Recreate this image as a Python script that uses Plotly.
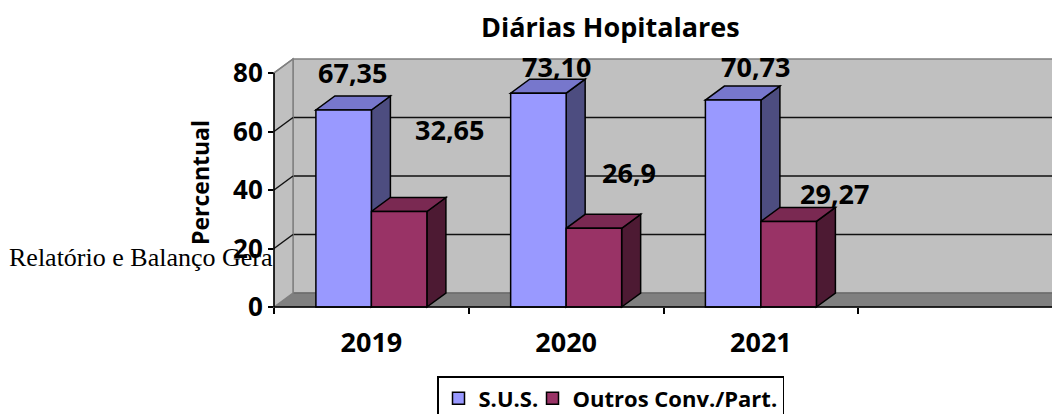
import plotly.graph_objects as go

# ---------------- data ----------------
categories = ["2019", "2020", "2021"]
sus = [67.35, 73.10, 70.73]
outros = [32.65, 26.9, 29.27]
sus_labels = ["67,35", "73,10", "70,73"]
outros_labels = ["32,65", "26,9", "29,27"]
series_names = ["S.U.S.", "Outros Conv./Part."]
y_ticks = [0, 20, 40, 60, 80]
title_text = "Diárias Hopitalares"
y_title = "Percentual"
stray_text = "Relatório e Balanço Gera"

# ---------------- layout / style ----------------
W, H = 1060, 414
OFF = 8                          # page body margin of the html page
N_SLOTS = 4                      # the category axis has an empty 4th slot
PX_PER_X, PX_PER_Y = 194.75, 2.925
X0_PX, Y0_PX = 371.4, 307        # page pixel of category 0 centre / value 0
X_RANGE = [(OFF - X0_PX) / PX_PER_X, (OFF + W - X0_PX) / PX_PER_X]
Y_RANGE = [-(OFF + H - Y0_PX) / PX_PER_Y, (Y0_PX - OFF) / PX_PER_Y]
DX, DY = 19 / PX_PER_X, 14 / PX_PER_Y   # 3-D depth offset in axis units
BAR_W = 0.285
YMAX = y_ticks[-1]
FONT = "Open Sans"

SUS_FRONT, SUS_TOP, SUS_SIDE = "#9999FF", "#7777CC", "#4D4D80"
OUT_FRONT, OUT_TOP, OUT_SIDE = "#993366", "#7A2952", "#4D1A33"
WALL, FLOOR, EDGE = "#C0C0C0", "#808080", "#808080"

# label nudges in pixels (x, y-up)
sus_nudge = [(-1, 24), (9, 13), (13, 20)]
outros_nudge = [(41, 68), (26, 42), (36, 14)]


def px(x):   # page x pixel -> paper
    return (x - OFF) / W


def py(y):   # page y pixel -> paper
    return 1 - (y - OFF) / H


def poly(pts):
    return "M " + " L ".join(f"{x},{y}" for x, y in pts) + " Z"


x_left = -0.5
x_right = N_SLOTS - 0.5
shapes = []

# back wall
shapes.append(dict(type="path", xref="x", yref="y", layer="below",
                   path=poly([(x_left + DX, DY), (x_right + DX, DY),
                              (x_right + DX, YMAX + DY), (x_left + DX, YMAX + DY)]),
                   fillcolor=WALL, line=dict(color=EDGE, width=1.5)))
# floor
shapes.append(dict(type="path", xref="x", yref="y", layer="below",
                   path=poly([(x_left, 0), (x_right, 0), (x_right + DX, DY), (x_left + DX, DY)]),
                   fillcolor=FLOOR, line=dict(color="#606060", width=1)))
# back-wall gridlines
for v in y_ticks[1:-1]:
    shapes.append(dict(type="line", xref="x", yref="y", layer="below",
                       x0=x_left + DX, x1=x_right + DX, y0=v + DY, y1=v + DY,
                       line=dict(color="#111111", width=1.5)))

# 3-D faces of the bars (top and side)
for i in range(len(categories)):
    for vals, off, top_c, side_c in ((sus, -BAR_W, SUS_TOP, SUS_SIDE),
                                     (outros, 0.0, OUT_TOP, OUT_SIDE)):
        v = vals[i]
        x0 = i + off
        x1 = x0 + BAR_W
        shapes.append(dict(type="path", xref="x", yref="y", layer="below",
                           path=poly([(x1, 0), (x1 + DX, DY), (x1 + DX, v + DY), (x1, v)]),
                           fillcolor=side_c, line=dict(color="black", width=1.5)))
        shapes.append(dict(type="path", xref="x", yref="y", layer="below",
                           path=poly([(x0, v), (x1, v), (x1 + DX, v + DY), (x0 + DX, v + DY)]),
                           fillcolor=top_c, line=dict(color="black", width=1.5)))

# side wall (drawn above so it hides the stray text behind it)
shapes.append(dict(type="path", xref="x", yref="y", layer="above",
                   path=poly([(x_left, 0), (x_left + DX, DY), (x_left + DX, YMAX + DY), (x_left, YMAX)]),
                   fillcolor=WALL, line=dict(color=EDGE, width=1.5)))
for v in y_ticks[1:]:
    shapes.append(dict(type="line", xref="x", yref="y", layer="above",
                       x0=x_left, x1=x_left + DX, y0=v, y1=v + DY,
                       line=dict(color="#111111" if v < YMAX else EDGE, width=1.5)))
# axis lines
shapes.append(dict(type="line", xref="x", yref="y", layer="above",
                   x0=x_left, x1=x_left, y0=0, y1=YMAX, line=dict(color="black", width=1.5)))
shapes.append(dict(type="line", xref="x", yref="y", layer="above",
                   x0=x_left, x1=x_right, y0=0, y1=0, line=dict(color="black", width=1.5)))

fig = go.Figure()
xs = list(range(len(categories)))
fig.add_trace(go.Bar(x=xs, y=sus, width=BAR_W, offset=-BAR_W, name=series_names[0],
                     legendwidth=49,
                     marker=dict(color=SUS_FRONT, line=dict(color="black", width=1.5)),
                     hoverinfo="skip"))
fig.add_trace(go.Bar(x=xs, y=outros, width=BAR_W, offset=0, name=series_names[1],
                     marker=dict(color=OUT_FRONT, line=dict(color="black", width=1.5)),
                     hoverinfo="skip"))
# stray document text partly hidden by the chart
fig.add_trace(go.Scatter(x=[(9 - X0_PX) / PX_PER_X], y=[(Y0_PX - 259) / PX_PER_Y],
                         mode="text", text=[stray_text],
                         textposition="middle right", showlegend=False, hoverinfo="skip",
                         textfont=dict(family="Liberation Serif", size=26, color="black")))

annotations = []
for i in range(len(categories)):
    for vals, labs, nud, cx in ((sus, sus_labels, sus_nudge, -BAR_W / 2),
                                (outros, outros_labels, outros_nudge, BAR_W / 2)):
        annotations.append(dict(x=i + cx + DX / 2, y=vals[i] + DY, xref="x", yref="y",
                                text=labs[i], showarrow=False, xanchor="center", yanchor="middle",
                                xshift=nud[i][0], yshift=nud[i][1],
                                font=dict(family=FONT, size=27, weight="bold", color="black")))
annotations.append(dict(x=px(610), y=py(27), xref="paper", yref="paper", text=title_text,
                        showarrow=False, xanchor="center", yanchor="middle",
                        font=dict(family=FONT, size=27, weight="bold", color="black")))
annotations.append(dict(x=px(200), y=py(183), xref="paper", yref="paper", text=y_title,
                        showarrow=False, textangle=-90, xanchor="center", yanchor="middle",
                        font=dict(family=FONT, size=23, weight="bold", color="black")))

fig.update_layout(
    width=W, height=H, margin=dict(l=0, r=0, t=0, b=0, autoexpand=False),
    paper_bgcolor="white", plot_bgcolor="white",
    barmode="overlay", shapes=shapes, annotations=annotations,
    showlegend=True,
    legend=dict(orientation="h", x=px(437), y=py(376), xanchor="left", yanchor="top",
                bordercolor="black", borderwidth=1.5, bgcolor="white",
                font=dict(family=FONT, size=22, weight="bold", color="black"),
                traceorder="normal", itemclick=False, itemdoubleclick=False),
    xaxis=dict(range=X_RANGE, anchor="free", position=py(Y0_PX),
               tickmode="array", tickvals=xs, ticktext=categories, ticks="",
               ticklabelstandoff=17,
               minor=dict(tickmode="array", tickvals=[k - 0.5 for k in range(N_SLOTS + 1)],
                          ticks="outside", ticklen=6, tickwidth=1.5, tickcolor="black"),
               showgrid=False, zeroline=False, showline=False, fixedrange=True,
               tickfont=dict(family=FONT, size=27, weight="bold", color="black")),
    yaxis=dict(range=Y_RANGE, anchor="free", position=px(274),
               tickmode="array", tickvals=y_ticks, ticks="outside", ticklen=6, tickwidth=1.5,
               tickcolor="black", showgrid=False, zeroline=False, showline=False, fixedrange=True,
               tickfont=dict(family=FONT, size=26, weight="bold", color="black")),
)

fig.write_html("out.html")
